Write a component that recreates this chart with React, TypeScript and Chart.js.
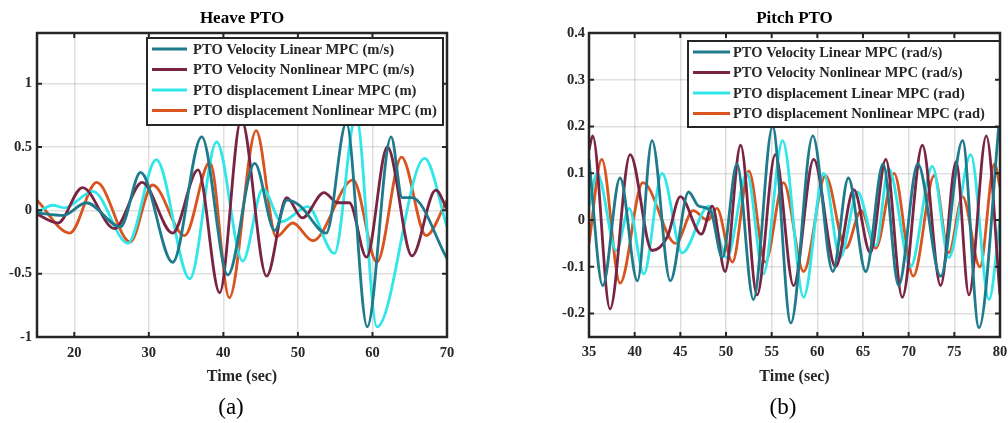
import React, { useEffect, useRef } from "react";
import { Chart, registerables } from "chart.js";

Chart.register(...registerables);

// ---- Heave PTO (turning points of each trace) ----
const heaveVelLinT = [15, 18.5, 21.6, 26.2, 28.9, 33.2, 37.1, 40.6, 44.2, 46.9, 48.5, 50.2, 53.8, 56.5, 59.3, 62.5, 64.0, 65.3, 70];
const heaveVelLinY = [-0.02, -0.04, 0.06, -0.13, 0.3, -0.41, 0.58, -0.51, 0.37, -0.16, 0.08, 0.04, -0.18, 0.69, -0.92, 0.58, 0.1, 0.1, -0.38];

const heaveVelNonT = [15, 17.8, 21.1, 25.4, 29.1, 33.2, 36.6, 39.5, 42.4, 45.8, 48.5, 50.6, 53.5, 55.3, 56.9, 59.2, 62.0, 65.3, 68.5, 70];
const heaveVelNonY = [-0.03, -0.1, 0.18, -0.145, 0.22, -0.18, 0.32, -0.65, 0.72, -0.52, 0.1, -0.06, 0.14, 0.06, 0.06, -0.37, 0.5, -0.36, 0.16, 0.01];

const heaveDispLinT = [15, 17.1, 18.7, 22.5, 27.2, 31.0, 35.5, 39.1, 42.6, 45.3, 47.8, 51.3, 54.9, 57.8, 60.6, 67.0, 70];
const heaveDispLinY = [-0.02, 0.04, 0.02, 0.15, -0.26, 0.4, -0.54, 0.54, -0.4, 0.17, -0.09, 0.03, -0.34, 0.75, -0.92, 0.41, -0.13];

const heaveDispNonT = [15, 19.4, 23.0, 27.5, 30.5, 34.8, 38.2, 40.8, 44.4, 47.1, 49.3, 52.0, 57.4, 60.6, 63.9, 67.2, 70];
const heaveDispNonY = [0.08, -0.18, 0.22, -0.25, 0.2, -0.2, 0.38, -0.69, 0.63, -0.21, -0.1, -0.24, 0.24, -0.41, 0.42, -0.2, 0.08];

const heaveXTicks = [20, 30, 40, 50, 60, 70];
const heaveYTicks = [-1, -0.5, 0, 0.5, 1];

// ---- Pitch PTO ----
const pitchVelLinT = [35, 36.5, 38.4, 40.3, 41.9, 43.9, 45.9, 47.0, 48.3, 49.6, 51.2, 53.0, 55.1, 57.1, 59.5, 61.7, 63.4, 65.3, 67.2, 68.9, 71.0, 73.5, 75.9, 77.7, 80];
const pitchVelLinY = [0.13, -0.14, 0.09, -0.13, 0.17, -0.13, 0.06, 0.03, 0.02, -0.08, 0.12, -0.17, 0.2, -0.22, 0.18, -0.11, 0.09, -0.11, 0.12, -0.14, 0.12, -0.12, 0.17, -0.23, 0.23];

const pitchVelNonT = [35, 35.4, 37.3, 39.5, 41.9, 43.6, 45.0, 47.3, 48.5, 49.9, 51.6, 53.4, 55.4, 57.4, 59.6, 62.0, 64.0, 65.8, 67.5, 69.3, 71.5, 73.5, 75.2, 76.6, 78.5, 80];
const pitchVelNonY = [0.15, 0.18, -0.19, 0.14, -0.065, -0.035, 0.05, -0.03, 0.03, -0.11, 0.16, -0.16, 0.14, -0.14, 0.13, -0.1, 0.065, -0.07, 0.13, -0.165, 0.16, -0.14, 0.125, -0.16, 0.18, -0.16];

const pitchDispLinT = [35, 35.9, 38.0, 39.4, 41.0, 43.0, 45.2, 48.1, 50.1, 52.3, 54.1, 56.2, 58.5, 60.7, 62.5, 64.4, 66.4, 67.8, 70.2, 72.6, 74.4, 76.8, 78.8, 80];
const pitchDispLinY = [0.03, 0.1, -0.065, 0.025, -0.115, 0.1, -0.07, 0.03, -0.08, 0.1, -0.115, 0.17, -0.165, 0.1, -0.08, 0.06, -0.055, 0.11, -0.1, 0.115, -0.08, 0.14, -0.17, 0.0];

const pitchDispNonT = [35, 36.4, 38.4, 40.9, 44.5, 46.4, 48.0, 49.0, 50.7, 52.5, 54.3, 56.3, 58.5, 60.9, 63.1, 64.8, 66.4, 68.4, 70.5, 72.8, 74.4, 75.9, 77.8, 79.4, 80];
const pitchDispNonY = [-0.05, 0.13, -0.135, 0.08, -0.05, 0.02, 0.0, 0.025, -0.09, 0.105, -0.09, 0.08, -0.11, 0.095, -0.06, 0.02, -0.06, 0.1, -0.12, 0.095, -0.07, 0.05, -0.1, 0.12, 0.07];

const pitchXTicks = [35, 40, 45, 50, 55, 60, 65, 70, 75, 80];
const pitchYTicks = [-0.2, -0.1, 0, 0.1, 0.2, 0.3, 0.4];

const heaveLabels = [
  "PTO Velocity Linear MPC (m/s)",
  "PTO Velocity Nonlinear MPC (m/s)",
  "PTO displacement Linear MPC (m)",
  "PTO displacement Nonlinear MPC (m)",
];
const pitchLabels = [
  "PTO Velocity Linear MPC (rad/s)",
  "PTO Velocity Nonlinear MPC (rad/s)",
  "PTO displacement Linear MPC (rad)",
  "PTO displacement Nonlinear MPC (rad)",
];

const COLORS = ["#1f7a8c", "#7a2443", "#30e6e8", "#d9541e"];
const SERIF = "'Liberation Serif', 'Times New Roman', serif";
const AXIS_INK = "#262626";

const toPoints = (t: number[], y: number[]) => t.map((x, i) => ({ x, y: y[i] }));

// Boxed axes with inward ticks on all four sides, plus an in-axes legend box.
const boxPlugin = {
  id: "boxedAxes",
  afterDatasetsDraw(chart: any, _args: any, opts: any) {
    const { ctx, chartArea: a, scales } = chart;
    ctx.save();
    // legend
    const lg = opts.legend;
    if (lg) {
      const bx = a.left + lg.left;
      const by = a.top + lg.top;
      ctx.fillStyle = "#fff";
      ctx.fillRect(bx, by, lg.width, lg.height);
      ctx.strokeStyle = AXIS_INK;
      ctx.lineWidth = 2;
      ctx.strokeRect(bx, by, lg.width, lg.height);
      ctx.font = `bold ${lg.fontSize}px ${SERIF}`;
      ctx.textBaseline = "middle";
      ctx.textAlign = "left";
      chart.data.datasets.forEach((ds: any, i: number) => {
        const ry = by + lg.firstRow + i * lg.rowGap;
        ctx.strokeStyle = ds.borderColor;
        ctx.lineWidth = 3;
        ctx.beginPath();
        ctx.moveTo(bx + lg.lineStart, ry);
        ctx.lineTo(bx + lg.lineEnd, ry);
        ctx.stroke();
        ctx.fillStyle = AXIS_INK;
        ctx.fillText(ds.label, bx + lg.textStart, ry + 1);
      });
    }
    // frame
    ctx.strokeStyle = AXIS_INK;
    ctx.lineWidth = 2.5;
    ctx.strokeRect(a.left, a.top, a.right - a.left, a.bottom - a.top);
    const len = 5;
    ctx.lineWidth = 2;
    ctx.beginPath();
    scales.x.ticks.forEach((t: any) => {
      const px = scales.x.getPixelForValue(t.value);
      ctx.moveTo(px, a.bottom);
      ctx.lineTo(px, a.bottom - len);
      ctx.moveTo(px, a.top);
      ctx.lineTo(px, a.top + len);
    });
    scales.y.ticks.forEach((t: any) => {
      const py = scales.y.getPixelForValue(t.value);
      ctx.moveTo(a.left, py);
      ctx.lineTo(a.left + len, py);
      ctx.moveTo(a.right, py);
      ctx.lineTo(a.right - len, py);
    });
    ctx.stroke();
    ctx.restore();
  },
};

type PanelProps = {
  title: string;
  labels: string[];
  series: { t: number[]; y: number[] }[];
  xMin: number;
  xMax: number;
  yMin: number;
  yMax: number;
  xTicks: number[];
  yTicks: number[];
  width: number;
  height: number;
  yAxisWidth: number;
  rightPad: number;
  yTickPad: number;
  xTickPad: number;
  legend: any;
};

function Panel(p: PanelProps) {
  const ref = useRef<HTMLCanvasElement>(null);
  useEffect(() => {
    const tickFont = { family: SERIF, size: 14.5, weight: "bold" as const };
    const chart = new Chart(ref.current!, {
      type: "line",
      data: {
        datasets: p.series.map((s, i) => ({
          label: p.labels[i],
          data: toPoints(s.t, s.y),
          borderColor: COLORS[i],
          backgroundColor: COLORS[i],
          borderWidth: 2.8,
          pointRadius: 0,
          fill: false,
          cubicInterpolationMode: "monotone" as const,
        })),
      },
      options: {
        animation: false,
        responsive: false,
        events: [],
        layout: { padding: { left: 0, right: p.rightPad, top: 0, bottom: 0 } },
        plugins: {
          legend: { display: false },
          tooltip: { enabled: false },
          title: {
            display: true,
            text: p.title,
            fullSize: false,
            color: "#000",
            font: { family: SERIF, size: 17, weight: "bold" },
            padding: { top: 8, bottom: 4.6 },
          },
          boxedAxes: { legend: p.legend },
        } as any,
        scales: {
          x: {
            type: "linear",
            min: p.xMin,
            max: p.xMax,
            afterBuildTicks: (s: any) => {
              s.ticks = p.xTicks.map((v) => ({ value: v }));
            },
            afterFit: (s: any) => {
              s.height = p.height - 337;
              s.paddingLeft = 0;
              s.paddingRight = 0;
            },
            grid: { color: "rgba(38,38,38,0.15)", lineWidth: 1.5, drawTicks: false },
            border: { display: false },
            ticks: {
              color: AXIS_INK,
              font: tickFont,
              padding: p.xTickPad,
              maxRotation: 0,
              autoSkip: false,
              callback: (v: any) => String(Math.round(Number(v) * 100) / 100),
            },
            title: {
              display: true,
              text: "Time (sec)",
              color: AXIS_INK,
              font: { family: SERIF, size: 16, weight: "bold" },
              padding: { top: 0, bottom: 9 },
            },
          },
          y: {
            type: "linear",
            min: p.yMin,
            max: p.yMax,
            afterBuildTicks: (s: any) => {
              s.ticks = p.yTicks.map((v) => ({ value: v }));
            },
            afterFit: (s: any) => {
              s.width = p.yAxisWidth;
              s.paddingTop = 0;
              s.paddingBottom = 0;
            },
            grid: { color: "rgba(38,38,38,0.15)", lineWidth: 1.5, drawTicks: false },
            border: { display: false },
            ticks: {
              color: AXIS_INK,
              font: tickFont,
              padding: p.yTickPad,
              autoSkip: false,
              callback: (v: any) => String(Math.round(Number(v) * 100) / 100),
            },
          },
        },
      },
      plugins: [boxPlugin],
    });
    return () => chart.destroy();
  }, []);
  return <canvas ref={ref} width={p.width} height={p.height} style={{ display: "block" }} />;
}

const captionStyle: React.CSSProperties = {
  position: "absolute",
  top: 393,
  width: 60,
  textAlign: "center",
  fontFamily: SERIF,
  fontSize: 23,
  lineHeight: "28px",
  color: "#000",
};

export default function App() {
  return (
    <div style={{ position: "absolute", left: 0, top: 0, width: 1008, height: 423, background: "#fff", overflow: "hidden" }}>
      <div style={{ position: "absolute", left: 0, top: 0 }}>
        <Panel
          title="Heave PTO"
          labels={heaveLabels}
          series={[
            { t: heaveVelLinT, y: heaveVelLinY },
            { t: heaveVelNonT, y: heaveVelNonY },
            { t: heaveDispLinT, y: heaveDispLinY },
            { t: heaveDispNonT, y: heaveDispNonY },
          ]}
          xMin={15}
          xMax={70}
          yMin={-1}
          yMax={1.4}
          xTicks={heaveXTicks}
          yTicks={heaveYTicks}
          width={470}
          height={395}
          yAxisWidth={37}
          rightPad={23}
          yTickPad={5}
          xTickPad={8}
          legend={{ left: 110, top: 5, width: 296, height: 87, firstRow: 11, rowGap: 20.5, lineStart: 5, lineEnd: 40, textStart: 46, fontSize: 14.6 }}
        />
      </div>
      <div style={{ position: "absolute", left: 520, top: 0 }}>
        <Panel
          title="Pitch PTO"
          labels={pitchLabels}
          series={[
            { t: pitchVelLinT, y: pitchVelLinY },
            { t: pitchVelNonT, y: pitchVelNonY },
            { t: pitchDispLinT, y: pitchDispLinY },
            { t: pitchDispNonT, y: pitchDispNonY },
          ]}
          xMin={35}
          xMax={80}
          yMin={-0.25}
          yMax={0.4}
          xTicks={pitchXTicks}
          yTicks={pitchYTicks}
          width={488}
          height={395}
          yAxisWidth={69}
          rightPad={8}
          yTickPad={4}
          xTickPad={7}
          legend={{ left: 99, top: 8, width: 312, height: 86, firstRow: 11, rowGap: 20.5, lineStart: 5, lineEnd: 42, textStart: 45, fontSize: 14.5 }}
        />
      </div>
      <div style={{ ...captionStyle, left: 201 }}>(a)</div>
      <div style={{ ...captionStyle, left: 753 }}>(b)</div>
    </div>
  );
}
